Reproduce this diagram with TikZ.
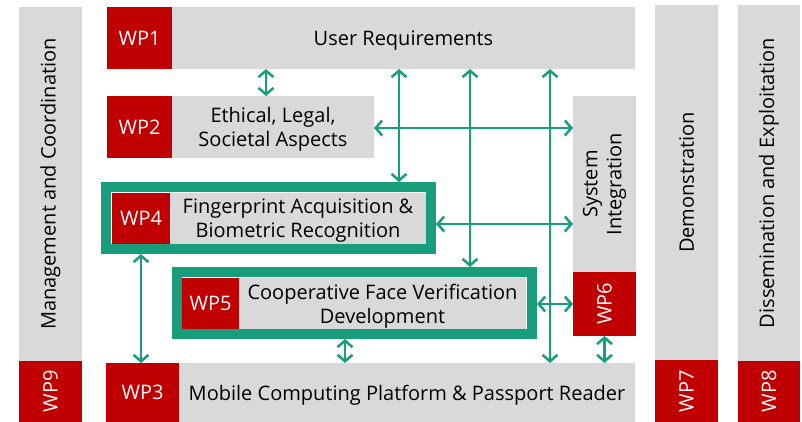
\documentclass[tikz,border=0pt]{standalone}
\usepackage{fontspec}
\setmainfont{Open Sans}
\usetikzlibrary{arrows.meta}
\definecolor{wpred}{RGB}{192,0,0}
\definecolor{wpgray}{RGB}{217,217,217}
\definecolor{wpgreen}{RGB}{24,157,125}
\tikzset{
  base/.style={inner sep=0pt, outer sep=0pt, align=center, text depth=0pt, font=\fontsize{20}{24}\selectfont},
  graybox/.style={base, fill=wpgray, text=black},
  redbox/.style={base, fill=wpred, text=white},
  frame/.style={draw=wpgreen, line width=10pt, outer sep=5pt, inner sep=0pt},
  arr/.style={draw=wpgreen, line width=2.5pt, {Straight Barb[length=6.5pt,width=15pt]}-{Straight Barb[length=6.5pt,width=15pt]}},
}
\begin{document}
\begin{tikzpicture}[x=1pt,y=-1pt]
\useasboundingbox (0,0) rectangle (802,422);
% WP9
\node[graybox, minimum width=63, minimum height=354] (wp9g) at (50.5,184) {\rotatebox{90}{Management and Coordination}};
\node[redbox, minimum width=63, minimum height=61] (wp9r) at (50.5,391.5) {\rotatebox{90}{WP9}};
% WP1
\node[redbox, minimum width=65, minimum height=62] (wp1r) at (139.5,38) {WP1};
\node[graybox, minimum width=463, minimum height=62] (wp1g) at (403.5,38) {User Requirements};
% WP2
\node[redbox, minimum width=65, minimum height=62] (wp2r) at (139.5,127) {WP2};
\node[graybox, minimum width=202, minimum height=62] (wp2g) at (273,127) {Ethical, Legal,\\Societal Aspects};
% WP4
\node[frame, minimum width=325, minimum height=62] (wp4f) at (268.5,218) {};
\node[redbox, minimum width=58, minimum height=51] (wp4r) at (141,218.5) {WP4};
\node[graybox, minimum width=256, minimum height=51] (wp4g) at (298,218.5) {Fingerprint Acquisition \&\\Biometric Recognition};
% WP5
\node[frame, minimum width=355, minimum height=62] (wp5f) at (354.5,303) {};
\node[redbox, minimum width=57, minimum height=51] (wp5r) at (210.5,303.5) {WP5};
\node[graybox, minimum width=287, minimum height=51] (wp5g) at (382.5,303.5) {Cooperative Face Verification\\Development};
% WP3
\node[redbox, minimum width=73, minimum height=59] (wp3r) at (142.5,392.5) {WP3};
\node[graybox, minimum width=456, minimum height=59] (wp3g) at (407,392.5) {Mobile Computing Platform \& Passport Reader};
% WP6
\node[graybox, minimum width=63, minimum height=176] (wp6g) at (604.5,184) {\rotatebox{90}{\begin{tabular}{@{}c@{}}System\\Integration\end{tabular}}};
\node[redbox, minimum width=63, minimum height=64] (wp6r) at (604.5,304) {\rotatebox{90}{WP6}};
% WP7
\node[graybox, minimum width=63, minimum height=355] (wp7g) at (686.5,182.5) {\rotatebox{90}{Demonstration}};
\node[redbox, minimum width=63, minimum height=62] (wp7r) at (686.5,391) {\rotatebox{90}{WP7}};
% WP8
\node[graybox, minimum width=62, minimum height=356] (wp8g) at (769,183) {\rotatebox{90}{Dissemination and Exploitation}};
\node[redbox, minimum width=62, minimum height=61] (wp8r) at (769,391.5) {\rotatebox{90}{WP8}};
% guide coordinates
\coordinate (xa) at (266,0);
\coordinate (xb) at (399,0);
\coordinate (xc) at (470,0);
\coordinate (xd) at (550,0);
\coordinate (xe) at (141,0);
\coordinate (xf) at (345,0);
\coordinate (ya) at (0,128);
\coordinate (yb) at (0,224);
% arrows
\draw[arr] (xa |- wp1g.south) -- (xa |- wp2g.north);
\draw[arr] (xb |- wp1g.south) -- (xb |- wp4f.north);
\draw[arr] (xc |- wp1g.south) -- (xc |- wp5f.north);
\draw[arr] (xd |- wp1g.south) -- (xd |- wp3g.north);
\draw[arr] (wp2g.east |- ya) -- (wp6g.west |- ya);
\draw[arr] (wp4f.east |- yb) -- (wp6g.west |- yb);
\draw[arr] (wp5f.east |- wp6r.west) -- (wp6r.west);
\draw[arr] (xe |- wp4f.south) -- (xe |- wp3r.north);
\draw[arr] (xf |- wp5f.south) -- (xf |- wp3g.north);
\draw[arr] (wp6r.south) -- (wp6r.south |- wp3g.north);
\end{tikzpicture}
\end{document}
